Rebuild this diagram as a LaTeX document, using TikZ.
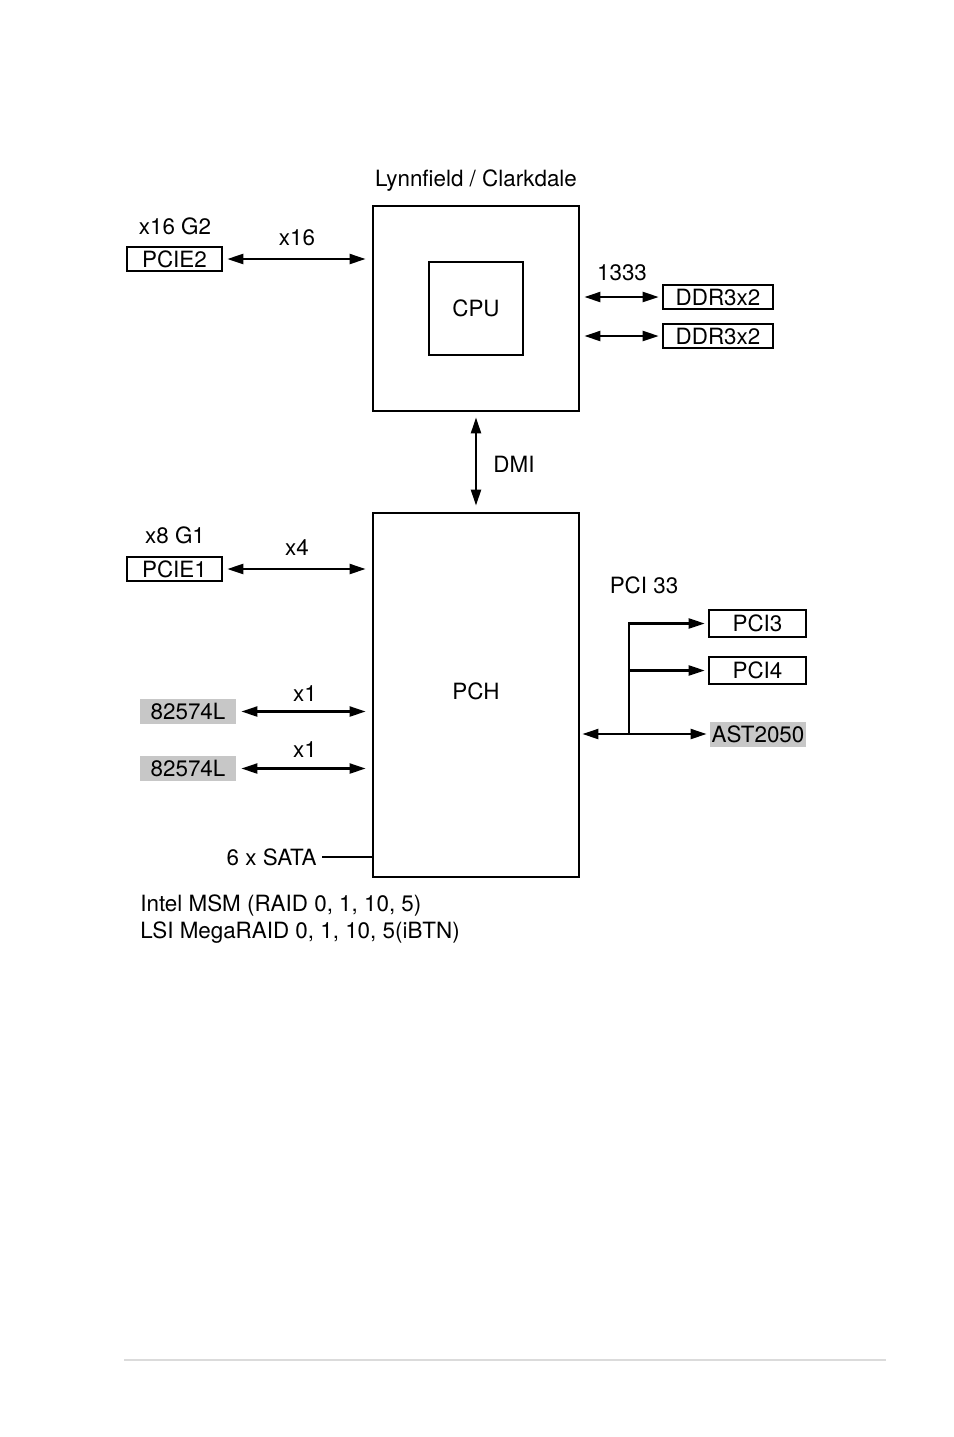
\documentclass[tikz,border=0pt]{standalone}
\usepackage{fontspec}
\setmainfont{TeX Gyre Heros}
\usetikzlibrary{arrows.meta}
\tikzset{
  chipbox/.style={draw, line width=1.4pt, inner sep=0pt},
  slotbox/.style={draw, line width=1.3pt, inner sep=0pt, minimum height=12pt},
  greybox/.style={fill=black!22, inner sep=0pt, minimum width=48pt, minimum height=12.5pt},
  lbl/.style={inner sep=0pt},
  biarrow/.style={line width=1.1pt, {Triangle[length=8pt,width=5pt]}-{Triangle[length=8pt,width=5pt]}},
  onearrow/.style={line width=1.1pt, -{Triangle[length=8pt,width=5pt]}}
}
\begin{document}
\begin{tikzpicture}[x=0.5pt, y=-0.5pt, font=\fontsize{11.2}{13.5}\selectfont]
  \useasboundingbox (0,0) rectangle (954,1437);
  % CPU package
  \node[chipbox, minimum width=103pt, minimum height=102.5pt] (cpu) at (476,308.5) {};
  \node[chipbox, minimum width=47pt, minimum height=46.5pt] (core) at (476,308.5) {CPU};
  \node[lbl] (cpuname) at (476,181) {Lynnfield / Clarkdale};
  % PCH
  \node[chipbox, minimum width=103pt, minimum height=182pt] (pch) at (476,695) {};
  \node[lbl] (pchname) at (476,691) {PCH};
  % DMI link
  \draw[biarrow, shorten <=2.5pt, shorten >=3pt] (cpu.south) -- (pch.north);
  \node[lbl] (dmi) at (514,464) {DMI};
  % PCIe slots
  \node[slotbox, minimum width=47.5pt] (pcie2) at (174.5,259) {PCIE2};
  \node[lbl] (pcie2gen) at (175,226) {x16 G2};
  \draw[biarrow, shorten <=2pt, shorten >=3pt] (pcie2.east) -- (pcie2.east -| cpu.west);
  \node[lbl] (lanes16) at (297,238) {x16};
  \node[slotbox, minimum width=47.5pt] (pcie1) at (174.5,569) {PCIE1};
  \node[lbl] (pcie1gen) at (175,535) {x8 G1};
  \draw[biarrow, shorten <=2pt, shorten >=3pt] (pcie1.east) -- (pcie1.east -| pch.west);
  \node[lbl] (lanes4) at (297,548) {x4};
  % memory
  \node[slotbox, minimum width=55pt] (ddra) at (718,297) {DDR3x2};
  \node[slotbox, minimum width=55pt] (ddrb) at (718,336) {DDR3x2};
  \draw[biarrow, shorten <=2pt, shorten >=1.5pt] (ddra.west -| cpu.east) -- (ddra.west);
  \draw[biarrow, shorten <=2pt, shorten >=1.5pt] (ddrb.west -| cpu.east) -- (ddrb.west);
  \node[lbl] (memspeed) at (622,273) {1333};
  % LAN chips
  \node[greybox] (lana) at (188,711.5) {82574L};
  \node[greybox] (lanb) at (188,768.5) {82574L};
  \draw[biarrow, shorten <=2.5pt, shorten >=3pt] (lana.east) -- (lana.east -| pch.west);
  \draw[biarrow, shorten <=2.5pt, shorten >=3pt] (lanb.east) -- (lanb.east -| pch.west);
  \node[lbl] (lanea) at (305,694) {x1};
  \node[lbl] (laneb) at (305,750) {x1};
  % PCI bus
  \node[slotbox, minimum width=48.5pt, minimum height=13.5pt] (pcia) at (757.5,623.5) {PCI3};
  \node[slotbox, minimum width=48.5pt, minimum height=13.5pt] (pcib) at (757.5,670.5) {PCI4};
  \node[greybox] (bmc) at (758,734) {AST2050};
  \node[lbl] (pcispeed) at (644,585) {PCI 33};
  \coordinate (bus) at (629,734);
  \draw[onearrow, shorten >=1pt] (bus) -- (bus -| pch.east);
  \draw[onearrow, shorten >=1.5pt] (bus) -- (bmc.west);
  \draw[onearrow, shorten >=1.5pt] (bus) |- (pcia.west);
  \draw[onearrow, shorten >=1.5pt] (bus |- pcib.west) -- (pcib.west);
  % SATA
  \node[lbl, anchor=east] (sata) at (317,857) {6 x SATA};
  \draw[line width=1.1pt] ([xshift=2.5pt]sata.east) -- (sata.east -| pch.west);
  \node[lbl, anchor=north west, align=left] (raid) at (140,894) {Intel MSM (RAID 0, 1, 10, 5)\\LSI MegaRAID 0, 1, 10, 5(iBTN)};
  % page rule
  \draw[black!14, line width=1pt] (124,1360) -- (886,1360);
\end{tikzpicture}
\end{document}
